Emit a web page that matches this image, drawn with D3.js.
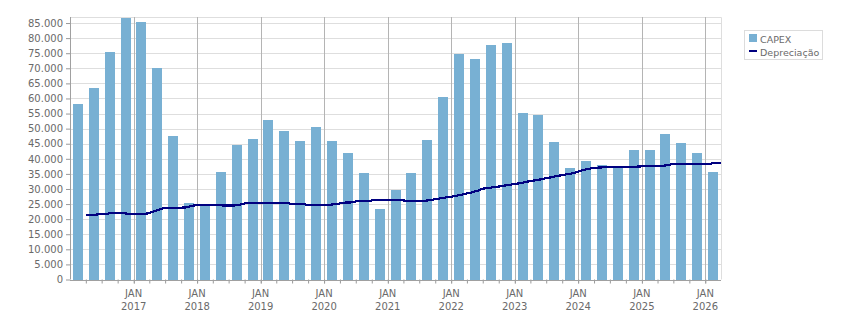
<!DOCTYPE html>
<html>
<head>
<meta charset="utf-8">
<script src="https://cdn.jsdelivr.net/npm/d3@7"></script>
<style>
  body { margin: 0; background: #fff; }
  text { font-family: "DejaVu Sans", sans-serif; font-size: 10px; fill: #6a6a6a; }
</style>
</head>
<body>
<script>
// quarters (start month of each quarter)
var quarters = [
  "2016-01", "2016-04", "2016-07", "2016-10",
  "2017-01", "2017-04", "2017-07", "2017-10",
  "2018-01", "2018-04", "2018-07", "2018-10",
  "2019-01", "2019-04", "2019-07", "2019-10",
  "2020-01", "2020-04", "2020-07", "2020-10",
  "2021-01", "2021-04", "2021-07", "2021-10",
  "2022-01", "2022-04", "2022-07", "2022-10",
  "2023-01", "2023-04", "2023-07", "2023-10",
  "2024-01", "2024-04", "2024-07", "2024-10",
  "2025-01", "2025-04", "2025-07", "2025-10",
  "2026-01"
];

// CAPEX per quarter
var capex = [
  58200, 63500, 75400, 86700,
  85300, 70100, 47600, 25300,
  25000, 35600, 44600, 46600,
  52900, 49200, 45900, 50500,
  46000, 41900, 35300, 23400,
  29700, 35300, 46200, 60500,
  74700, 73100, 77700, 78400,
  55200, 54500, 45600, 37000,
  39300, 38000, 37000, 42900,
  42900, 48200, 45200, 41900,
  35600
];

// Depreciação, monthly from Apr 2016 to Apr 2026
var depStart = "2016-04";
var depreciacao = [
  21500, 21500, 21500, 21800, 21800, 22100, 22100, 22100, 21700,
  21700, 21700, 21700, 22000, 22700, 23200, 23800, 23800, 23800, 23800, 23900, 24400,
  24700, 24700, 24700, 24700, 24700, 24500, 24500, 24500, 24800, 25200, 25400, 25400,
  25400, 25400, 25400, 25400, 25400, 25400, 25000, 25000, 25000, 24700, 24700, 24700,
  24700, 24700, 25000, 25200, 25500, 25500, 25900, 25900, 25900, 26200, 26300, 26300,
  26300, 26300, 26300, 26200, 26000, 26000, 26000, 26100, 26300, 26600, 26900, 27200,
  27400, 27800, 28100, 28500, 28900, 29400, 30100, 30300, 30600, 30800, 31100, 31300,
  31700, 31900, 32300, 32600, 32900, 33200, 33600, 33900, 34300, 34600, 34900, 35200,
  35800, 36300, 36700, 37000, 37100, 37200, 37200, 37200, 37200, 37200, 37400, 37400,
  37500, 37500, 37500, 37700, 37700, 37900, 38400, 38400, 38400, 38400, 38400, 38400,
  38400, 38400, 38700, 38700
];

var yTicks = d3.range(0, 85001, 5000);
var monthNames = ["JAN"];
var seriesNames = ["CAPEX", "Depreciação"];

var svgWidth = 851;
var svgHeight = 313;

var margin = { top: 17, right: 130, bottom: 33.5, left: 70 };
var width = svgWidth - margin.left - margin.right;   // 651
var height = svgHeight - margin.top - margin.bottom; // 262.5

var barColor = "#78b0d3";
var lineColor = "#000080";

var parseMonth = d3.timeParse("%Y-%m");

var svg = d3.select("body")
  .append("svg")
    .attr("width", svgWidth)
    .attr("height", svgHeight)
  .append("g")
    .attr("transform", "translate(" + margin.left + "," + margin.top + ")");

var x = d3.scaleTime()
  .domain([parseMonth("2016-01"), parseMonth("2026-04")])
  .range([0, width]);

var y = d3.scaleLinear()
  .domain([0, 87000])
  .range([height, 0]);

var pt = d3.formatLocale({ decimal: ",", thousands: ".", grouping: [3], currency: ["R$", ""] });
var fmt = pt.format(",d");

// horizontal grid
svg.append("g")
  .selectAll("line")
  .data(yTicks.slice(1))
  .enter()
  .append("line")
    .attr("x1", 0)
    .attr("x2", width)
    .attr("y1", d => Math.round(y(d)) + 0.5)
    .attr("y2", d => Math.round(y(d)) + 0.5)
    .style("stroke", "#dedede");

// plot border (top, right)
svg.append("path")
  .attr("d", "M0,0.5H" + (Math.round(width) + 0.5) + "V" + height)
  .style("fill", "none")
  .style("stroke", "#dedede");

// vertical grid at each January
var years = d3.timeYear.range(parseMonth("2017-01"), parseMonth("2026-02"));
svg.append("g")
  .selectAll("line")
  .data(years)
  .enter()
  .append("line")
    .attr("x1", d => Math.round(x(d)) + 0.5)
    .attr("x2", d => Math.round(x(d)) + 0.5)
    .attr("y1", 0)
    .attr("y2", height + 4)
    .style("stroke", "#b4b4b4");

// bars
var barW = 10;
svg.append("g")
  .selectAll("rect")
  .data(quarters)
  .enter()
  .append("rect")
    .attr("x", function(d) {
      var t0 = parseMonth(d);
      var t1 = d3.timeMonth.offset(t0, 3);
      return Math.round((x(t0) + x(t1)) / 2 - barW / 2);
    })
    .attr("y", (d, i) => y(capex[i]))
    .attr("width", barW)
    .attr("height", (d, i) => height - y(capex[i]))
    .style("fill", barColor)
    .style("shape-rendering", "crispEdges");

// depreciation line
var t0 = parseMonth(depStart);
var line = d3.line()
  .x((d, i) => x(d3.timeMonth.offset(t0, i)))
  .y(d => y(d));

svg.append("path")
  .datum(depreciacao)
  .attr("d", line)
  .style("fill", "none")
  .style("stroke", lineColor)
  .style("stroke-width", 2.2)
  .style("shape-rendering", "crispEdges");

// y axis
var yAxis = svg.append("g")
  .call(d3.axisLeft(y).tickValues(yTicks).tickSize(4).tickPadding(3).tickFormat(fmt));
yAxis.select(".domain").remove();
yAxis.selectAll(".tick line").style("stroke", "#999");
yAxis.selectAll("text").style("fill", "#6a6a6a").style("font-size", "10px")
  .style("font-family", "DejaVu Sans, sans-serif");

svg.append("line")
  .attr("x1", 0.5).attr("x2", 0.5)
  .attr("y1", 0).attr("y2", height)
  .style("stroke", "#a0a0a0");

// x axis (quarter ticks)
var qTicks = d3.timeMonth.every(3).range(parseMonth("2016-04"), parseMonth("2026-04"));
var xAxis = svg.append("g")
  .attr("transform", "translate(0," + height + ")")
  .call(d3.axisBottom(x).tickValues(qTicks).tickSize(4).tickFormat(""));
xAxis.select(".domain").remove();
xAxis.selectAll(".tick line").style("stroke", "#999");

svg.append("line")
  .attr("x1", 0).attr("x2", width)
  .attr("y1", Math.round(height) + 0.5).attr("y2", Math.round(height) + 0.5)
  .style("stroke", "#a0a0a0");

var xLabels = svg.append("g")
  .selectAll("text")
  .data(years)
  .enter()
  .append("text")
    .attr("text-anchor", "middle")
    .attr("x", d => x(d));
xLabels.append("tspan")
  .attr("x", d => x(d))
  .attr("y", height + 17.5)
  .text(monthNames[0]);
xLabels.append("tspan")
  .attr("x", d => x(d))
  .attr("y", height + 30)
  .text(d => d.getFullYear());

// legend
var legend = svg.append("g")
  .attr("transform", "translate(" + (744 - margin.left) + "," + (30 - margin.top) + ")");
legend.append("rect")
  .attr("x", 0.5).attr("y", 0.5)
  .attr("width", 78).attr("height", 29)
  .style("fill", "#fff")
  .style("stroke", "#dcdcdc");
legend.append("rect")
  .attr("x", 5).attr("y", 4)
  .attr("width", 8).attr("height", 8)
  .style("fill", barColor);
legend.append("line")
  .attr("x1", 5).attr("x2", 13)
  .attr("y1", 21).attr("y2", 21)
  .style("stroke", lineColor)
  .style("stroke-width", 2);
legend.selectAll("text.lg")
  .data(seriesNames)
  .enter()
  .append("text")
    .attr("class", "lg")
    .attr("x", 16)
    .attr("y", (d, i) => 12.5 + i * 13)
    .style("font-size", "9.5px")
    .text(d => d);
</script>
</body>
</html>
